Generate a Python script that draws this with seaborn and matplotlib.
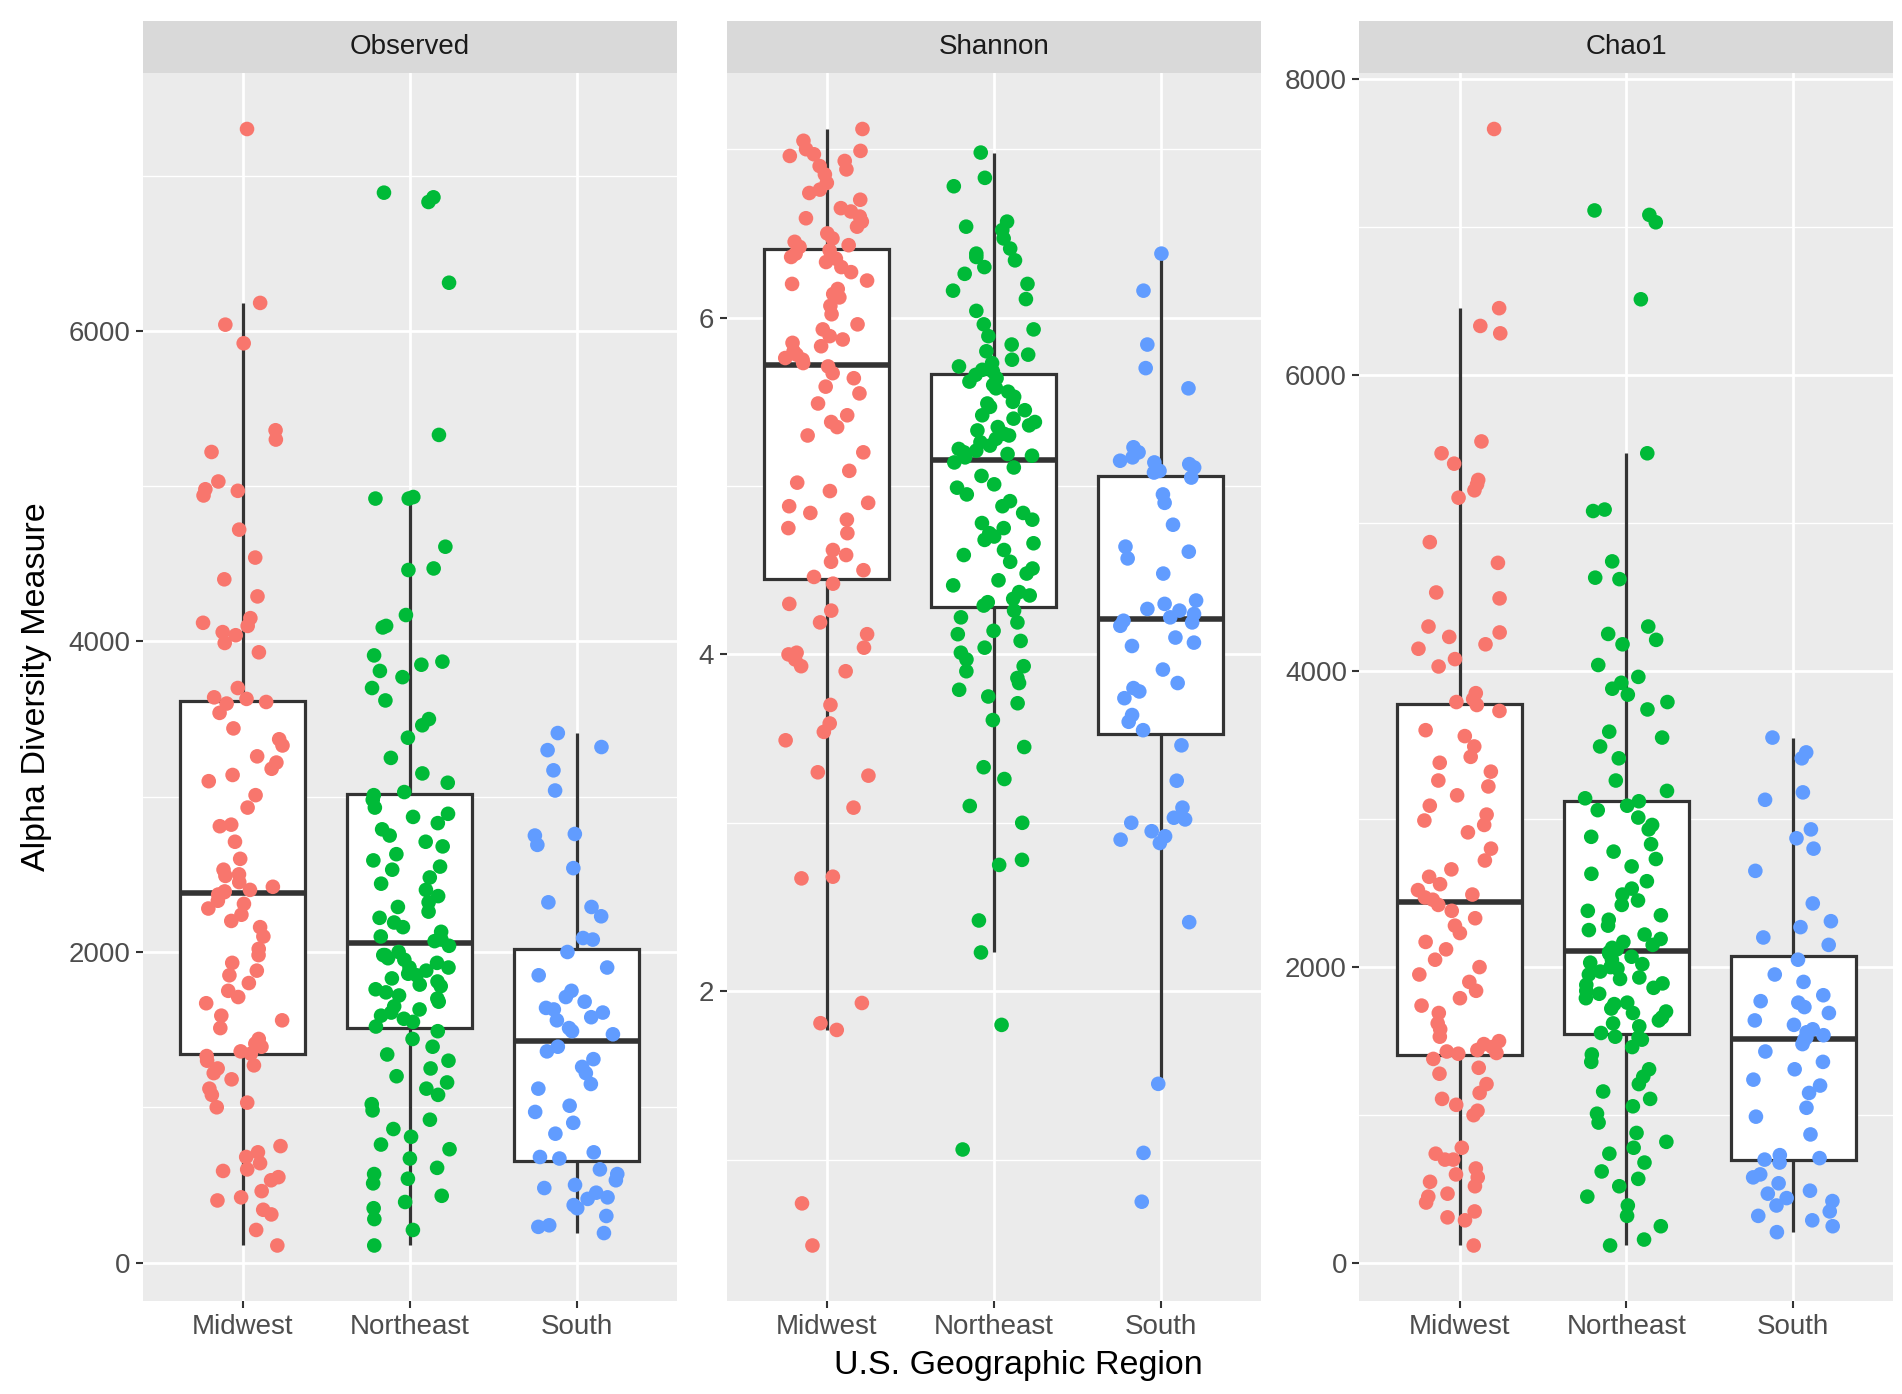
import numpy as np
import pandas as pd
import matplotlib
matplotlib.use("Agg")
import matplotlib.pyplot as plt
import seaborn as sns
from matplotlib.ticker import MultipleLocator

regions = ["Midwest", "Northeast", "South"]
palette = {"Midwest": "#F8766D", "Northeast": "#00BA38", "South": "#619CFF"}

obs_midwest = [7300, 6180, 6040, 5920, 5360, 5300, 5220, 5030, 4980, 4970, 4940, 4720, 4540, 4400, 4290,
               4150, 4120, 4100, 4060, 4040, 3990, 3930, 3700, 3640, 3630,
               3610, 3600, 3540, 3440, 3370, 3330, 3260, 3220, 3180, 3140, 3100, 3010, 2930, 2820, 2810,
               2710, 2600, 2530, 2490, 2450, 2420, 2400, 2390, 2385, 2500,
               2370, 2330, 2310, 2280, 2240, 2200, 2160, 2100, 2020, 1980, 1930, 1880, 1850, 1800, 1750,
               1710, 1670, 1590, 1560, 1510, 1440, 1410, 1390, 1360, 1345,
               1330, 1300, 1250, 1220, 1120, 1080, 1030, 1000, 750, 710, 680, 640, 590, 550, 530,
               460, 420, 310, 340, 210, 110, 1270, 1180, 600, 400]
obs_northeast = [6890, 6830, 6860, 6310, 5330, 4930, 4920, 4920, 4610, 4470, 4460, 4170, 4100, 4090, 3910,
                 3870, 3850, 3810, 3770, 3700, 3620, 3500, 3460, 3380, 3250, 3150, 3090, 3030, 3010, 2980,
                 2930, 2890, 2870, 2830, 2790, 2750, 2710, 2680, 2630, 2590, 2550, 2530, 2480, 2440, 2400,
                 2360, 2320, 2290, 2260, 2220, 2190, 2160, 2130, 2100, 2080, 2070, 2040, 2000, 1980, 1960,
                 1930, 1900, 1880, 1860, 1830, 1810, 1780, 1760, 1740, 1700, 1680, 1650, 1610, 1570, 1550,
                 1520, 1490, 1440, 1390, 1340, 1300, 1250, 1200, 1160, 1120, 1080, 1020, 980, 920, 860,
                 810, 760, 730, 670, 610, 570, 540, 510, 430, 390, 350, 280, 210, 110,
                 1980, 1950, 1900, 1850, 1790, 1720, 1630, 1590]
obs_south = [3410, 3320, 3300, 3170, 3040, 2760, 2750, 2690, 2540, 2320, 2290, 2230, 2090, 2080, 2000,
             1850, 1750, 1710, 1680, 1640, 1630, 1610, 1560, 1510, 1470, 1390, 1360, 1310, 1260, 1220,
             1120, 1010, 970, 830, 710, 680, 670, 570, 530, 500, 450, 410, 370, 300, 240, 190, 230,
             1900, 1580, 1490, 1150, 900, 600, 480, 350, 420]

sha_midwest = [7.12, 7.05, 7.0, 6.99, 6.97, 6.96, 6.93, 6.9, 6.88, 6.85, 6.8, 6.76, 6.74, 6.7, 6.65,
               6.63, 6.6, 6.59, 6.57, 6.54, 6.5, 6.47, 6.45, 6.43, 6.42,
               6.4, 6.38, 6.36, 6.35, 6.33, 6.3, 6.27, 6.22, 6.2, 6.17, 6.14, 6.12, 6.07, 6.02, 5.96,
               5.93, 5.89, 5.87, 5.85, 5.83, 5.8, 5.78, 5.76, 5.75, 5.73,
               5.71, 5.67, 5.64, 5.59, 5.55, 5.49, 5.42, 5.38, 5.35, 5.3, 5.2, 5.09, 5.02, 4.97, 4.9,
               4.88, 4.84, 4.8, 4.75, 4.72, 4.62, 4.59, 4.55, 4.5, 4.46,
               4.42, 4.3, 4.26, 4.19, 4.12, 4.04, 4.01, 4.0, 3.97, 3.93, 3.9, 3.7, 3.59, 3.54, 3.49,
               3.3, 3.28, 3.09, 2.68, 2.67, 1.93, 1.81, 1.77, 0.74, 0.49]
sha_northeast = [6.98, 6.83, 6.78, 6.57, 6.54, 6.52, 6.47, 6.41, 6.38, 6.36, 6.34, 6.3, 6.26, 6.2, 6.16,
                 6.11, 6.04, 5.96, 5.93, 5.89, 5.84, 5.8, 5.78, 5.75, 5.73, 5.71, 5.69, 5.68,
                 5.66, 5.64, 5.62, 5.6, 5.58, 5.56, 5.53, 5.5, 5.49, 5.47, 5.45, 5.42, 5.4, 5.38,
                 5.36, 5.35, 5.33, 5.31, 5.3, 5.28, 5.26, 5.24, 5.22, 5.21, 5.2, 5.19, 5.18, 5.17,
                 5.14, 5.11, 5.06, 5.01, 4.99, 4.95, 4.91, 4.88, 4.84, 4.8, 4.78, 4.75, 4.72, 4.7,
                 4.68, 4.66, 4.62, 4.59, 4.55, 4.51, 4.48, 4.44, 4.41, 4.37, 4.35, 4.33, 4.31, 4.29,
                 4.26, 4.22, 4.19, 4.14, 4.12, 4.08, 4.04, 4.01, 3.97, 3.93, 3.9, 3.86, 3.83, 3.79,
                 3.75, 3.71, 3.61, 3.45, 3.33, 3.26, 3.1, 3.0, 2.78, 2.75, 2.42, 2.23, 1.8, 1.06]
sha_south = [6.38, 6.16, 5.84, 5.7, 5.58, 5.23, 5.2, 5.17, 5.15, 5.14, 5.13, 5.11, 5.09, 5.08,
             5.05, 4.95, 4.9, 4.77, 4.64, 4.61, 4.57, 4.48, 4.32, 4.3, 4.27, 4.26, 4.24, 4.22,
             4.2, 4.19, 4.17, 4.1, 4.07, 4.05, 3.91, 3.83, 3.8, 3.78, 3.74, 3.64, 3.6, 3.55,
             3.46, 3.25, 3.09, 3.03, 3.02, 3.0, 2.92, 2.9, 2.88, 2.41, 1.45, 1.04, 0.75, 2.95]

chao_midwest = [7660, 6450, 6330, 6280, 5550, 5470, 5400, 5290, 5260, 5220, 5170, 4870, 4730, 4530, 4490,
                4300, 4260, 4230, 4180, 4150, 4080, 4030, 3850, 3810, 3790,
                3770, 3730, 3600, 3560, 3490, 3420, 3380, 3320, 3260, 3220, 3160, 3090, 3030, 2990, 2960,
                2910, 2800, 2720, 2660, 2610, 2560, 2520, 2490, 2470, 2455,
                2420, 2380, 2330, 2280, 2230, 2170, 2120, 2050, 2000, 1950, 1900, 1840, 1790, 1740, 1690,
                1620, 1580, 1530, 1500, 1480, 1460, 1440, 1430, 1420, 1415,
                1380, 1320, 1280, 1210, 1150, 1110, 1070, 1030, 1000, 780, 740, 700, 640, 600, 580,
                520, 470, 410, 350, 310, 290, 450, 550, 700, 120]
chao_northeast = [7110, 7080, 7030, 6510, 5470, 5090, 5080, 4740, 4630, 4620, 4300, 4250, 4210, 4180,
                  4040, 3960, 3920, 3880, 3840, 3790, 3740, 3590, 3550, 3490, 3410, 3260, 3190, 3140,
                  3120, 3090, 3060, 3010, 2960, 2930, 2880, 2830, 2780, 2730, 2680, 2630, 2580, 2530,
                  2490, 2450, 2420, 2380, 2350, 2320, 2280, 2250, 2220, 2190, 2170, 2150, 2130, 2120,
                  2100, 2090, 2070, 2050, 2030, 2020, 2000, 1990, 1970, 1950, 1930, 1920, 1890, 1880,
                  1860, 1840, 1820, 1790, 1760, 1750, 1720, 1700, 1690, 1660, 1640, 1620, 1600, 1555,
                  1530, 1510, 1460, 1410, 1360, 1310, 1260, 1210, 1160, 1110, 1060, 1010, 950, 880,
                  820, 780, 740, 680, 620, 570, 520, 450, 390, 320, 250, 160, 120, 1525]
chao_south = [3550, 3450, 3410, 3180, 3130, 2930, 2870, 2800, 2650, 2430, 2310, 2270, 2200, 2150,
              2050, 1950, 1900, 1810, 1770, 1760, 1730, 1690, 1640, 1610, 1580, 1560, 1540, 1525,
              1510, 1480, 1430, 1360, 1310, 1240, 1200, 1150, 1050, 990, 870, 730, 710, 700,
              680, 600, 580, 540, 490, 440, 390, 350, 290, 250, 210, 470, 420, 320]

measures = ["Observed", "Shannon", "Chao1"]
data = {
    "Observed": {"Midwest": obs_midwest, "Northeast": obs_northeast, "South": obs_south},
    "Shannon": {"Midwest": sha_midwest, "Northeast": sha_northeast, "South": sha_south},
    "Chao1": {"Midwest": chao_midwest, "Northeast": chao_northeast, "South": chao_south},
}

rows = []
for m in measures:
    for r in regions:
        for v in data[m][r]:
            rows.append({"measure": m, "region": r, "value": v})
df = pd.DataFrame(rows)

sns.set_theme(style="darkgrid")
plt.rcParams["font.family"] = ["Liberation Sans", "DejaVu Sans"]

W, H = 1560.0, 1143.0
fig = plt.figure(figsize=(19.02, 13.94), dpi=100)
fig.patch.set_facecolor("white")

panels = [(117, 555), (596, 1034), (1115, 1553)]
top, bottom, strip_top = 60, 1067, 17
major = {"Observed": 2000, "Shannon": 2, "Chao1": 2000}
minor = {"Observed": 1000, "Shannon": 1, "Chao1": 1000}

np.random.seed(3)
for m, (x0, x1) in zip(measures, panels):
    ax = fig.add_axes([x0 / W, 1 - bottom / H, (x1 - x0) / W, (bottom - top) / H])
    ax.set_facecolor("#EBEBEB")
    sub = df[df.measure == m]
    sns.boxplot(data=sub, x="region", y="value", order=regions, color="white",
                linecolor="#333333", linewidth=2.3, width=0.75, showfliers=False,
                showcaps=False, medianprops=dict(linewidth=4.0, color="#333333"),
                whiskerprops=dict(linewidth=2.3, color="#333333"), ax=ax, zorder=2)
    sns.stripplot(data=sub, x="region", y="value", order=regions, hue="region",
                  palette=palette, jitter=0.25, size=10.5, linewidth=0, legend=False,
                  ax=ax, zorder=3)
    vals = sub.value.values
    rng = vals.max() - vals.min()
    ylim = (vals.min() - 0.05 * rng, vals.max() + 0.05 * rng)
    ax.set_xlim(-0.6, 2.6)
    ax.yaxis.set_major_locator(MultipleLocator(major[m]))
    ax.yaxis.set_minor_locator(MultipleLocator(minor[m]))
    ax.set_ylim(*ylim)
    ax.grid(which="major", color="white", linewidth=2.0, zorder=0)
    ax.grid(which="minor", axis="y", color="white", linewidth=1.0, zorder=0)
    ax.set_axisbelow(True)
    for s in ax.spines.values():
        s.set_visible(False)
    ax.tick_params(axis="both", which="major", labelsize=20, labelcolor="#4D4D4D",
                   color="#333333", length=5, width=1.5, pad=4, left=True, bottom=True)
    ax.tick_params(axis="y", which="minor", length=0)
    ax.set_xlabel("")
    ax.set_ylabel("")
    if m == "Shannon":
        ticks = [t for t in ax.get_yticks() if ylim[0] <= t <= ylim[1]]
        ax.set_yticks(ticks)
        ax.set_yticklabels([f"{t:g}" for t in ticks])
        ax.set_ylim(*ylim)
    # strip header
    sax = fig.add_axes([x0 / W, 1 - top / H, (x1 - x0) / W, (top - strip_top) / H])
    sax.set_facecolor("#D9D9D9")
    sax.set_xticks([])
    sax.set_yticks([])
    sax.grid(False)
    for s in sax.spines.values():
        s.set_visible(False)
    sax.text(0.5, 0.5, m, ha="center", va="center", fontsize=20, color="#1A1A1A",
             transform=sax.transAxes)

fig.text(835 / W, 1 - 1120 / H, "U.S. Geographic Region", ha="center", va="center",
         fontsize=24.5, color="black")
fig.text(30 / W, 1 - 563 / H, "Alpha Diversity Measure", ha="center", va="center",
         rotation=90, fontsize=24.5, color="black")

fig.savefig("out.png", dpi=100, facecolor="white")
